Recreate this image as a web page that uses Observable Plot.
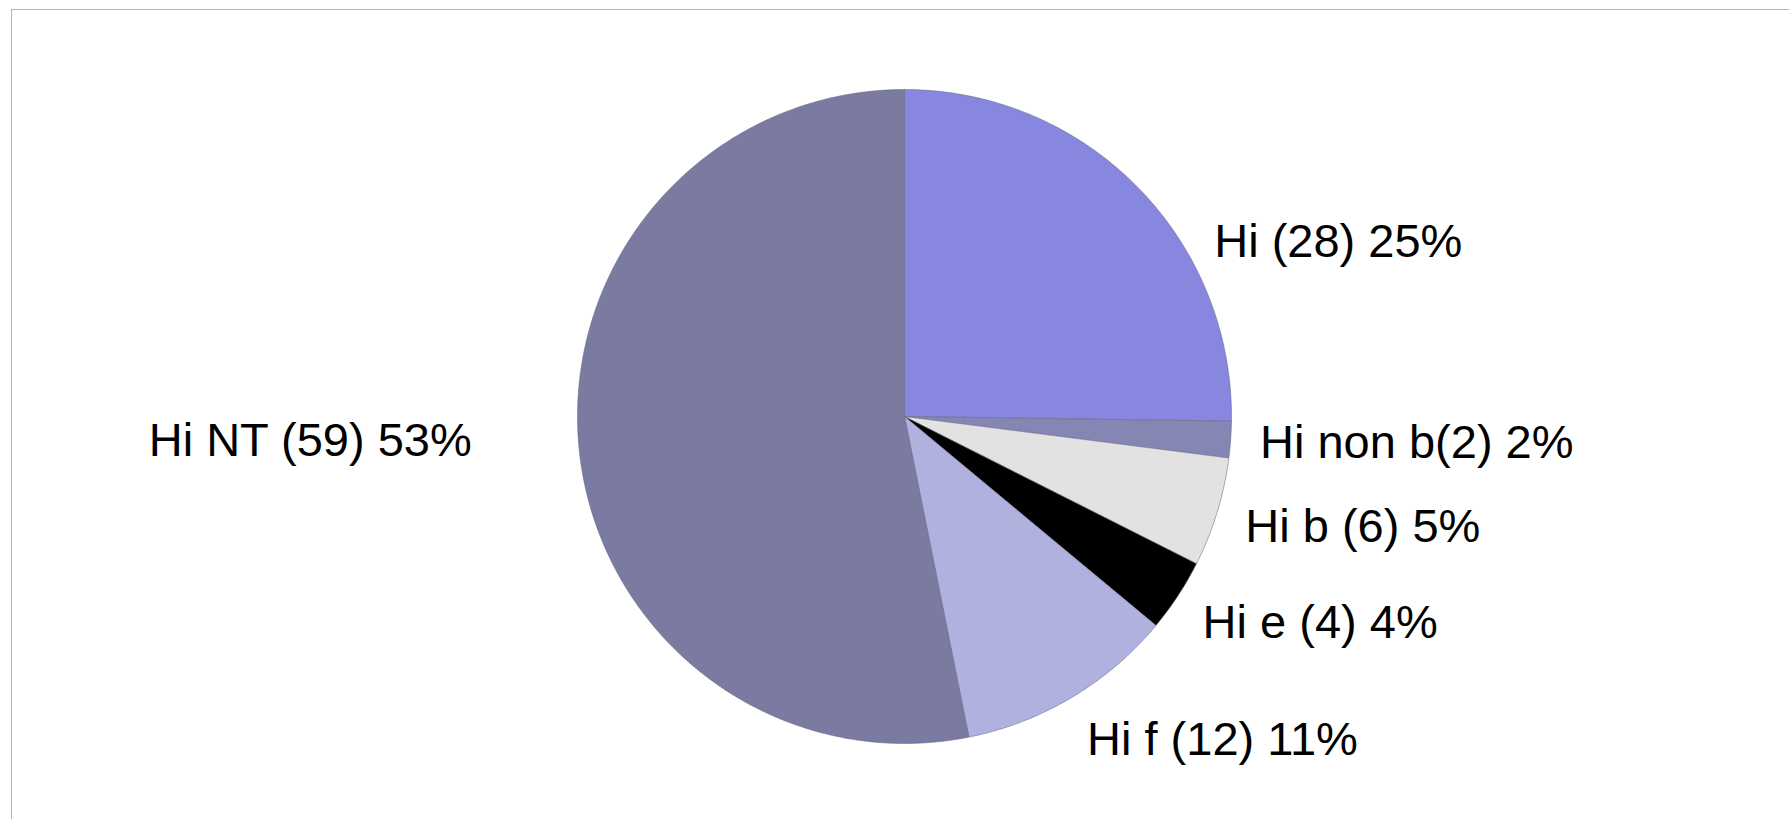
<!DOCTYPE html>
<html><head><meta charset="utf-8">
<script src="https://cdn.jsdelivr.net/npm/d3@7"></script>
<script src="https://cdn.jsdelivr.net/npm/@observablehq/plot@0.6"></script>
<style>
html,body{margin:0;padding:0;background:#fff;overflow:hidden;width:1789px;height:819px}
#chart{position:absolute;left:0;top:0}
#frame{position:absolute;left:11px;top:9px;width:2000px;height:1000px;border:1px solid #b4b4b4;box-sizing:border-box;pointer-events:none}
</style></head><body>
<div id="chart"></div><div id="frame"></div>
<script>
const categories = ["Hi", "Hi non b", "Hi b", "Hi e", "Hi f", "Hi NT"];
const counts = [28, 2, 6, 4, 12, 59];
const percents = ["25%", "2%", "5%", "4%", "11%", "53%"];
const labelTexts = ["Hi (28) 25%", "Hi non b(2) 2%", "Hi b (6) 5%", "Hi e (4) 4%", "Hi f (12) 11%", "Hi NT (59) 53%"];
const colors = ["#8787e0", "#8686b4", "#e2e2e2", "#000000", "#b1b1e0", "#7b7aa0"];

const total = d3.sum(counts);
const slicePts = [];
const labelRows = [];
let cum = 0;
categories.forEach((name, i) => {
  const a0 = cum / total * 2 * Math.PI;
  cum += counts[i];
  const a1 = cum / total * 2 * Math.PI;
  const steps = Math.max(2, Math.ceil((a1 - a0) / (Math.PI / 360)));
  slicePts.push({name, x: 0, y: 0});
  for (let s = 0; s <= steps; s++) {
    const a = a0 + (a1 - a0) * s / steps;
    slicePts.push({name, x: Math.sin(a), y: Math.cos(a)});
  }
  slicePts.push({name, x: 0, y: 0});
  const mid = (a0 + a1) / 2;
  // best-fit style placement: wide slices get labels pushed sideways, narrow ones sit just outside the rim
  const wide = counts[i] / total > 0.2;
  const kx = wide ? 1.33 : 1.09;
  const ky = wide ? 0.76 : 1.15;
  labelRows.push({name, text: labelTexts[i], x: kx * Math.sin(mid), y: ky * Math.cos(mid), right: Math.sin(mid) >= 0});
});

const chart = Plot.plot({
  width: 1789,
  height: 819,
  marginLeft: 577,
  marginRight: 558,
  marginTop: 89,
  marginBottom: 76,
  x: {domain: [-1, 1], axis: null},
  y: {domain: [-1, 1], axis: null},
  color: {domain: categories, range: colors, type: "ordinal"},
  style: {background: "transparent", fontFamily: "'Liberation Sans', Arial, sans-serif"},
  marks: [
    Plot.line(slicePts, {x: "x", y: "y", z: "name", fill: "name", stroke: "#6a6a88", strokeWidth: 0.8, strokeOpacity: 0.7, strokeLinejoin: "round"}),
    Plot.text(labelRows.filter(d => d.right), {x: "x", y: "y", text: "text", textAnchor: "start", lineAnchor: "middle", fontSize: 47, fill: "#000"}),
    Plot.text(labelRows.filter(d => !d.right), {x: "x", y: "y", text: "text", textAnchor: "end", lineAnchor: "middle", fontSize: 47, fill: "#000"})
  ]
});
document.getElementById("chart").appendChild(chart);
</script>
</body></html>
